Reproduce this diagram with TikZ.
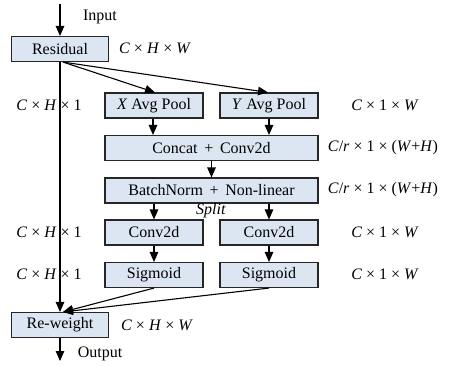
\documentclass[tikz,border=0pt]{standalone}
\usepackage{fontspec}
\setmainfont{Liberation Serif}
\usetikzlibrary{arrows.meta}
\definecolor{boxfill}{HTML}{DCE6F2}
\definecolor{boxline}{HTML}{262626}
\tikzset{
  txt/.style={font=\fontspec{Liberation Serif}\fontsize{16}{18}\selectfont},
  blk/.style={txt, draw=boxline, fill=boxfill, line width=1.1pt, minimum height=25pt,
    inner sep=0pt},
  small/.style={blk, minimum width=98pt},
  wide/.style={blk, minimum width=213pt},
  side/.style={blk, minimum width=97pt},
  lab/.style={txt, inner sep=0pt},
  tip/.style={-{Triangle[length=10pt,width=8.5pt]}},
  arr/.style={line width=1.1pt, tip},
  ln/.style={line width=1.1pt}
}
\begin{document}
\begin{tikzpicture}[x=1pt, y=-1pt]
\useasboundingbox (0,0) rectangle (455,365);

% blocks
\node[side]  (res) at (60,49)    {Residual};
\node[small] (xp)  at (154,105.5) {\textit{X} Avg Pool};
\node[small] (yp)  at (269,105.5) {\textit{Y} Avg Pool};
\node[wide]  (cat) at (211.5,148) {Concat \,+\, Conv2d};
\node[wide]  (bn)  at (211.5,190.5) {BatchNorm \,+\, Non-linear};
\node[small] (cl)  at (154,232.5) {Conv2d};
\node[small] (cr)  at (269,232.5) {Conv2d};
\node[small] (sl)  at (154,275)   {Sigmoid};
\node[small] (sr)  at (269,275)   {Sigmoid};
\node[side]  (rw)  at (60,325)    {Re-weight};

% input / output
\coordinate (in)  at (60,4);
\coordinate (out) at (60,361);
\node[lab] (inl)  at (100,17)  {Input};
\node[lab] (outl) at (100,354) {Output};
\draw[arr] (in) -- (res.north);
\draw[arr] (rw.south) -- (out);

% size annotations
\node[lab] (d1) at (155,48)  {\textit{C} × \textit{H} × \textit{W}};
\node[lab] (d2) at (157,325) {\textit{C} × \textit{H} × \textit{W}};
\node[lab] (l1) at (49,105)  {\textit{C} × \textit{H} × 1};
\node[lab] (l2) at (49,232)  {\textit{C} × \textit{H} × 1};
\node[lab] (l3) at (49,274)  {\textit{C} × \textit{H} × 1};
\node[lab] (r1) at (385,105) {\textit{C} × 1 × \textit{W}};
\node[lab] (r2) at (383,147.5) {\textit{C}/\textit{r} × 1 × (\textit{W}+\textit{H})};
\node[lab] (r3) at (383,190) {\textit{C}/\textit{r} × 1 × (\textit{W}+\textit{H})};
\node[lab] (r4) at (385,232) {\textit{C} × 1 × \textit{W}};
\node[lab] (r5) at (385,274) {\textit{C} × 1 × \textit{W}};
\node[lab] (sp) at (211,211) {\textit{Split}};

% connectors
\draw[arr] (res.south) -- (rw.north);
\draw[arr] ([xshift=3pt]res.south) -- ([xshift=1pt]xp.north);
\draw[arr] ([xshift=3pt]res.south) -- ([xshift=-1pt]yp.north);
\draw[arr] ([xshift=-1pt]xp.south) -- ([xshift=-1pt]xp.south |- cat.north);
\draw[arr] (yp.south) -- (yp.south |- cat.north);
\draw[arr] (cat.south) -- (bn.north);
\draw[arr] (cl.north |- bn.south) -- (cl.north);
\draw[arr] (cr.north |- bn.south) -- (cr.north);
\draw[arr] (cl.south) -- (sl.north);
\draw[arr] (cr.south) -- (sr.north);
\draw[arr] (sl.south) -- ([xshift=3pt]rw.north);
\draw[arr] (sr.south) -- ([xshift=3pt]rw.north);
\end{tikzpicture}
\end{document}
